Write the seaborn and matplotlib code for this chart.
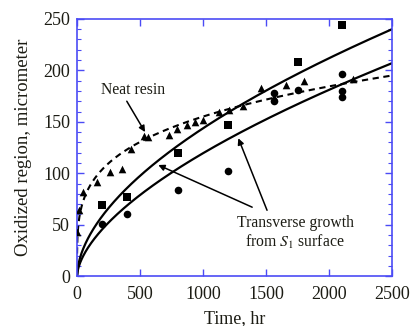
import numpy as np
import pandas as pd
import matplotlib
matplotlib.use("Agg")
import matplotlib.pyplot as plt
from matplotlib.ticker import MultipleLocator
import seaborn as sns

# Measured oxidation depth (micrometer) vs aging time (hr)
square_time = [200, 400, 800, 1200, 1750, 2100]
square_depth = [69, 77, 120, 147, 208, 244]

circle_time = [200, 400, 800, 1200, 1560, 1560, 1750, 2100, 2100, 2100]
circle_depth = [51, 60, 84, 102, 178, 170, 181, 196, 180, 174]

neat_time = [3, 18, 45, 160, 260, 355, 430, 530, 560, 730, 790, 870, 940,
             1000, 1130, 1210, 1320, 1460, 1560, 1660, 1800, 2190]
neat_depth = [43, 64, 82, 91, 101, 104, 124, 136, 135, 137, 143, 147, 150,
              152, 160, 161, 165, 183, 174, 186, 190, 192]

# Power-law fits  depth = A * (t / 2500) ** n
fit_upper = (240, 0.56)
fit_lower = (207, 0.60)
fit_neat = (195, 0.25)

sns.set_style("ticks")
plt.rcParams["font.family"] = ["Liberation Serif", "DejaVu Serif"]
plt.rcParams["mathtext.fontset"] = "stix"

blue = "#4b4bf5"
ink = "#1c1c14"

fig = plt.figure(figsize=(4.14, 3.26), dpi=100)
ax = fig.add_axes([0.186, 0.153, 0.761, 0.789])

t = np.linspace(0, 2500, 400)
t_neat = np.linspace(0.4, 2500, 800)
curves = pd.concat([
    pd.DataFrame({"t": t, "d": fit_upper[0] * (t / 2500) ** fit_upper[1], "c": "upper"}),
    pd.DataFrame({"t": t, "d": fit_lower[0] * (t / 2500) ** fit_lower[1], "c": "lower"}),
])
sns.lineplot(data=curves, x="t", y="d", units="c", estimator=None,
             color="black", lw=1.6, ax=ax)
neat_curve = pd.DataFrame({"t": t_neat, "d": fit_neat[0] * (t_neat / 2500) ** fit_neat[1]})
sns.lineplot(data=neat_curve, x="t", y="d", color="black", lw=1.5,
             linestyle=(0, (3, 2.2)), ax=ax)

sns.scatterplot(x=square_time, y=square_depth, marker="s", s=34, color="black",
                edgecolor="black", linewidth=0, ax=ax, zorder=3)
sns.scatterplot(x=circle_time, y=circle_depth, marker="o", s=30, color="black",
                edgecolor="black", linewidth=0, ax=ax, zorder=3)
sns.scatterplot(x=neat_time, y=neat_depth, marker="^", s=30, color="black",
                edgecolor="black", linewidth=0, ax=ax, zorder=3)

ax.set_xlim(0, 2500)
ax.set_ylim(0, 250)
ax.xaxis.set_major_locator(MultipleLocator(500))
ax.yaxis.set_major_locator(MultipleLocator(50))
ax.yaxis.set_minor_locator(MultipleLocator(10))
ax.tick_params(which="both", direction="in", top=True, right=True,
               color=blue, labelcolor=ink, labelsize=13)
ax.tick_params(axis="x", pad=7)
ax.tick_params(axis="y", pad=5)
ax.tick_params(which="major", length=5, width=1)
ax.tick_params(which="minor", length=3, width=0.8)
for sp in ax.spines.values():
    sp.set_color(blue)
    sp.set_linewidth(1.2)

ax.set_xlabel("Time, hr", fontsize=13, color=ink, labelpad=5)
ax.set_ylabel("Oxidized region, micrometer", fontsize=13.5, color=ink, labelpad=8)

arrow = dict(arrowstyle="-|>", color="black", lw=1.1, mutation_scale=9,
             shrinkA=0, shrinkB=0)
ax.annotate("", xy=(540, 140), xytext=(395, 170), arrowprops=arrow)
ax.text(445, 181, "Neat resin", fontsize=11.3, color=ink, ha="center", va="center")

ax.annotate("", xy=(645, 108), xytext=(1390, 67), arrowprops=arrow)
ax.annotate("", xy=(1280, 134), xytext=(1508, 64), arrowprops=arrow)
ax.text(1732, 52, "Transverse growth", fontsize=11.3, color=ink, ha="center", va="center")
ax.text(1725, 33, "from $S_1$ surface", fontsize=11.3, color=ink, ha="center", va="center")

fig.savefig("out.png", dpi=100)
